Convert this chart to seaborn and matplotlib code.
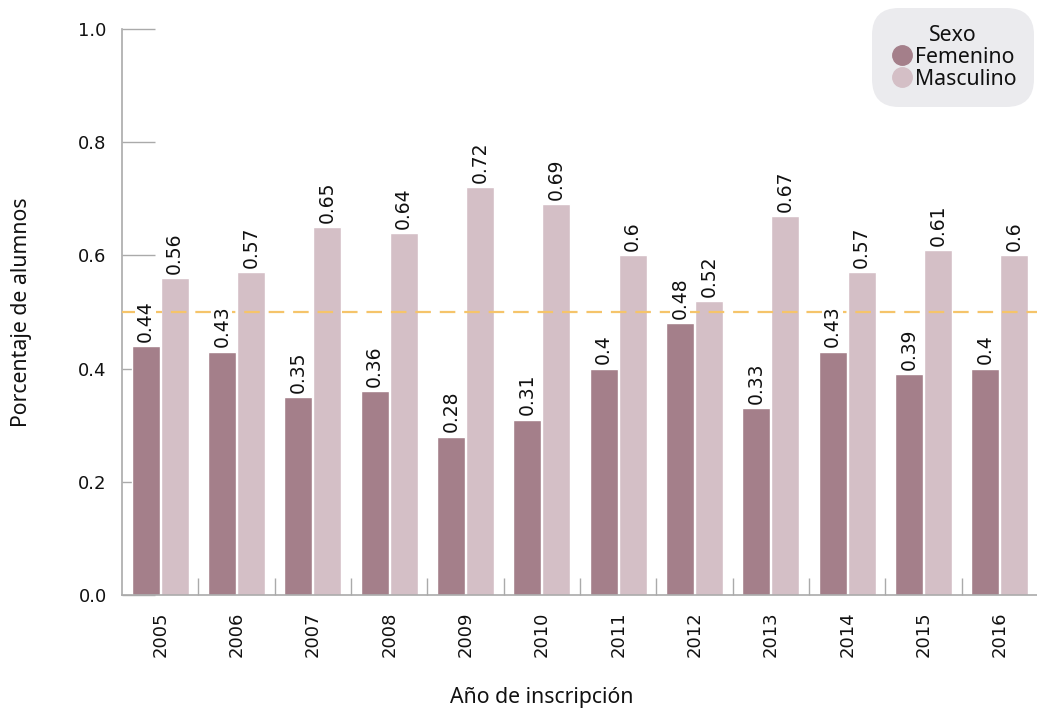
import numpy as np
import pandas as pd
import matplotlib
matplotlib.use("Agg")
import matplotlib.pyplot as plt
from matplotlib.lines import Line2D
from matplotlib.ticker import FixedLocator
import seaborn as sns

years = ["2005", "2006", "2007", "2008", "2009", "2010",
         "2011", "2012", "2013", "2014", "2015", "2016"]
femenino = [0.44, 0.43, 0.35, 0.36, 0.28, 0.31, 0.40, 0.48, 0.33, 0.43, 0.39, 0.40]
masculino = [0.56, 0.57, 0.65, 0.64, 0.72, 0.69, 0.60, 0.52, 0.67, 0.57, 0.61, 0.60]
sexes = ["Femenino", "Masculino"]
colors = ["#a47f8a", "#d4bfc6"]

df = pd.DataFrame({
    "anio": years * 2,
    "valor": femenino + masculino,
    "sexo": [sexes[0]] * len(years) + [sexes[1]] * len(years),
})

sns.set_theme(style="white")
plt.rcParams["font.family"] = ["Noto Sans", "DejaVu Sans"]
num_font = ["DejaVu Sans"]

fig = plt.figure(figsize=(10.37, 7.15), dpi=100)
ax = fig.add_axes([122 / 1037, 1 - 595 / 715, (1038 - 122) / 1037, (595 - 29) / 715])

sns.barplot(data=df, x="anio", y="valor", hue="sexo", order=years,
            hue_order=sexes, palette=colors, width=0.76, gap=0.04,
            saturation=1, ax=ax, legend=False, errorbar=None)

for cont in ax.containers:
    texts = ax.bar_label(cont, labels=[f"{v:g}" for v in cont.datavalues],
                         rotation=90, padding=3, fontsize=13.5, color="#111111",
                         family=num_font)
    for t in texts:
        t.set_zorder(6)
        t.set_bbox(dict(facecolor="white", edgecolor="none", pad=0.5))

# reference line at 50 %
ax.axhline(0.5, color="#f5c46a", linestyle=(0, (7, 4)), linewidth=1.6, zorder=5)

ax.set_xlim(-0.5, len(years) - 0.5)
ax.set_ylim(0, 1.0)
ax.set_yticks([0, 0.2, 0.4, 0.6, 0.8, 1.0])
ax.set_yticklabels(["0.0", "0.2", "0.4", "0.6", "0.8", "1.0"], fontsize=13,
                   family=num_font)
for lbl in ax.get_xticklabels():
    lbl.set_family(num_font)
ax.tick_params(axis="y", direction="in", length=24, width=1, color="#aaaaaa",
               pad=11, left=True, labelcolor="#111111")
ax.tick_params(axis="x", which="major", length=0, pad=12, labelsize=13,
               rotation=90, labelcolor="#111111")
ax.xaxis.set_minor_locator(FixedLocator(np.arange(0.5, len(years) - 0.5, 1)))
ax.tick_params(axis="x", which="minor", direction="in", length=12, width=1,
               color="#aaaaaa", bottom=True)

for s in ["top", "right"]:
    ax.spines[s].set_visible(False)
for s in ["left", "bottom"]:
    ax.spines[s].set_color("#aaaaaa")
    ax.spines[s].set_linewidth(1.2)

ax.set_xlabel("Año de inscripción", fontsize=15.3, color="#111111")
ax.xaxis.set_label_coords((542 - 122) / (1038 - 122), -(698 - 595) / (595 - 29))
ax.xaxis.label.set_va("center")
ax.set_ylabel("Porcentaje de alumnos", fontsize=15.3, color="#111111")
ax.yaxis.set_label_coords(-(122 - 22) / (1038 - 122), 0.5)
ax.yaxis.label.set_va("center")

handles = [Line2D([], [], marker="o", linestyle="", markersize=14,
                  markerfacecolor=c, markeredgecolor=c) for c in colors]
leg = ax.legend(handles, sexes, title="Sexo", loc="upper right",
                bbox_to_anchor=(1.0, 1.045), frameon=True, fontsize=15.3,
                title_fontsize=15.3, handletextpad=0.0, borderpad=0.5,
                labelspacing=0.05, handlelength=1.25)
for t in leg.get_texts():
    t.set_color("#111111")
leg.get_title().set_color("#111111")
frame = leg.get_frame()
frame.set_facecolor("#ebebee")
frame.set_edgecolor("none")
frame.set_alpha(1)
frame.set_boxstyle("round,pad=0.3,rounding_size=1.3")

fig.savefig("out.png", dpi=100)
